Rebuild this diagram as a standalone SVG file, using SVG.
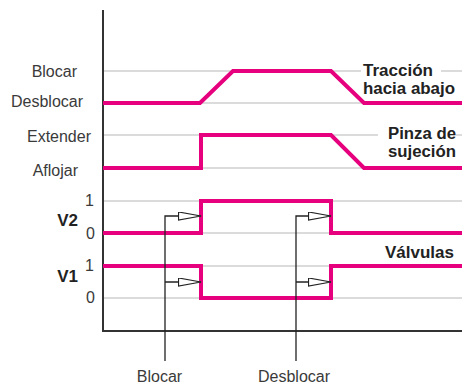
<svg xmlns="http://www.w3.org/2000/svg" width="462" height="385" viewBox="0 0 462 385">
<defs>
<style>
.grid{stroke:#b8b8b8;stroke-width:1.2;fill:none}
.axis{stroke:#333;stroke-width:2;fill:none}
.sig{stroke:#e6007e;stroke-width:4;fill:none;stroke-linejoin:miter}
.ptr{stroke:#222;stroke-width:1.3;fill:none}
.lbl{font-family:"Liberation Sans",Arial,sans-serif;font-size:16px;fill:#3a3a3a}
.bold{font-family:"Liberation Sans",Arial,sans-serif;font-size:17px;font-weight:bold;fill:#222}
.boldc{font-family:"Liberation Sans",Arial,sans-serif;font-size:16px;font-weight:bold;fill:#222}
</style>
<marker id="tri" markerWidth="24" markerHeight="10" refX="23" refY="4.5" orient="auto" markerUnits="userSpaceOnUse">
<path d="M0.5,0.5 L23,4.5 L0.5,8.5 Z" fill="#fff" stroke="#222" stroke-width="1.2"/>
</marker>
</defs>
<rect width="462" height="385" fill="#fff"/>
<g id="grid">
<line class="grid" x1="103" y1="71" x2="462" y2="71"/>
<line class="grid" x1="103" y1="103" x2="462" y2="103"/>
<line class="grid" x1="103" y1="135" x2="462" y2="135"/>
<line class="grid" x1="103" y1="168" x2="462" y2="168"/>
<line class="grid" x1="103" y1="201" x2="462" y2="201"/>
<line class="grid" x1="103" y1="233" x2="462" y2="233"/>
<line class="grid" x1="103" y1="266" x2="462" y2="266"/>
<line class="grid" x1="103" y1="298" x2="462" y2="298"/>
</g>
<g id="axes">
<path class="axis" d="M103,10 V331 H462"/>
</g>
<g id="traccion">
<polyline class="sig" points="103,103 200,103 233,71 331,71 364,103 462,103"/>
<rect x="361" y="62" width="80" height="14" fill="#fff"/>
<text class="boldc" x="363" y="76" textLength="70" lengthAdjust="spacingAndGlyphs">Tracción</text>
<text class="boldc" x="363" y="93.5" textLength="92" lengthAdjust="spacingAndGlyphs">hacia abajo</text>
</g>
<g id="pinza">
<polyline class="sig" points="103,168 201,168 201,135 331,135 364,168 462,168"/>
<rect x="378" y="126" width="78" height="14" fill="#fff"/>
<text class="boldc" x="388" y="139" textLength="68" lengthAdjust="spacingAndGlyphs">Pinza de</text>
<text class="boldc" x="388" y="156.5" textLength="68" lengthAdjust="spacingAndGlyphs">sujeción</text>
</g>
<g id="v2">
<polyline class="sig" points="103,233 201,233 201,201 331,201 331,233 462,233"/>
</g>
<g id="v1">
<polyline class="sig" points="103,266 201,266 201,298 331,298 331,266 462,266"/>
<text class="bold" x="454" y="258" text-anchor="end">Válvulas</text>
</g>
<g id="labels">
<text class="lbl" x="77" y="77" text-anchor="end">Blocar</text>
<text class="lbl" x="83" y="107" text-anchor="end">Desblocar</text>
<text class="lbl" x="91" y="142" text-anchor="end">Extender</text>
<text class="lbl" x="78" y="176" text-anchor="end">Aflojar</text>
<text class="lbl" x="94" y="206" text-anchor="end">1</text>
<text class="lbl" x="95" y="239" text-anchor="end">0</text>
<text class="lbl" x="94" y="271" text-anchor="end">1</text>
<text class="lbl" x="95" y="303" text-anchor="end">0</text>
<text class="bold" x="78" y="226" text-anchor="end">V2</text>
<text class="bold" x="78" y="282" text-anchor="end">V1</text>
</g>
<g id="connectors">
<path class="ptr" d="M165,361 V216 H201" marker-end="url(#tri)"/>
<path class="ptr" d="M165,282 H201" marker-end="url(#tri)"/>
<path class="ptr" d="M296,361 V216 H331" marker-end="url(#tri)"/>
<path class="ptr" d="M296,282 H331" marker-end="url(#tri)"/>
</g>
<g id="events">
<text class="lbl" x="159.5" y="382" text-anchor="middle">Blocar</text>
<text class="lbl" x="294" y="382" text-anchor="middle">Desblocar</text>
</g>
</svg>
